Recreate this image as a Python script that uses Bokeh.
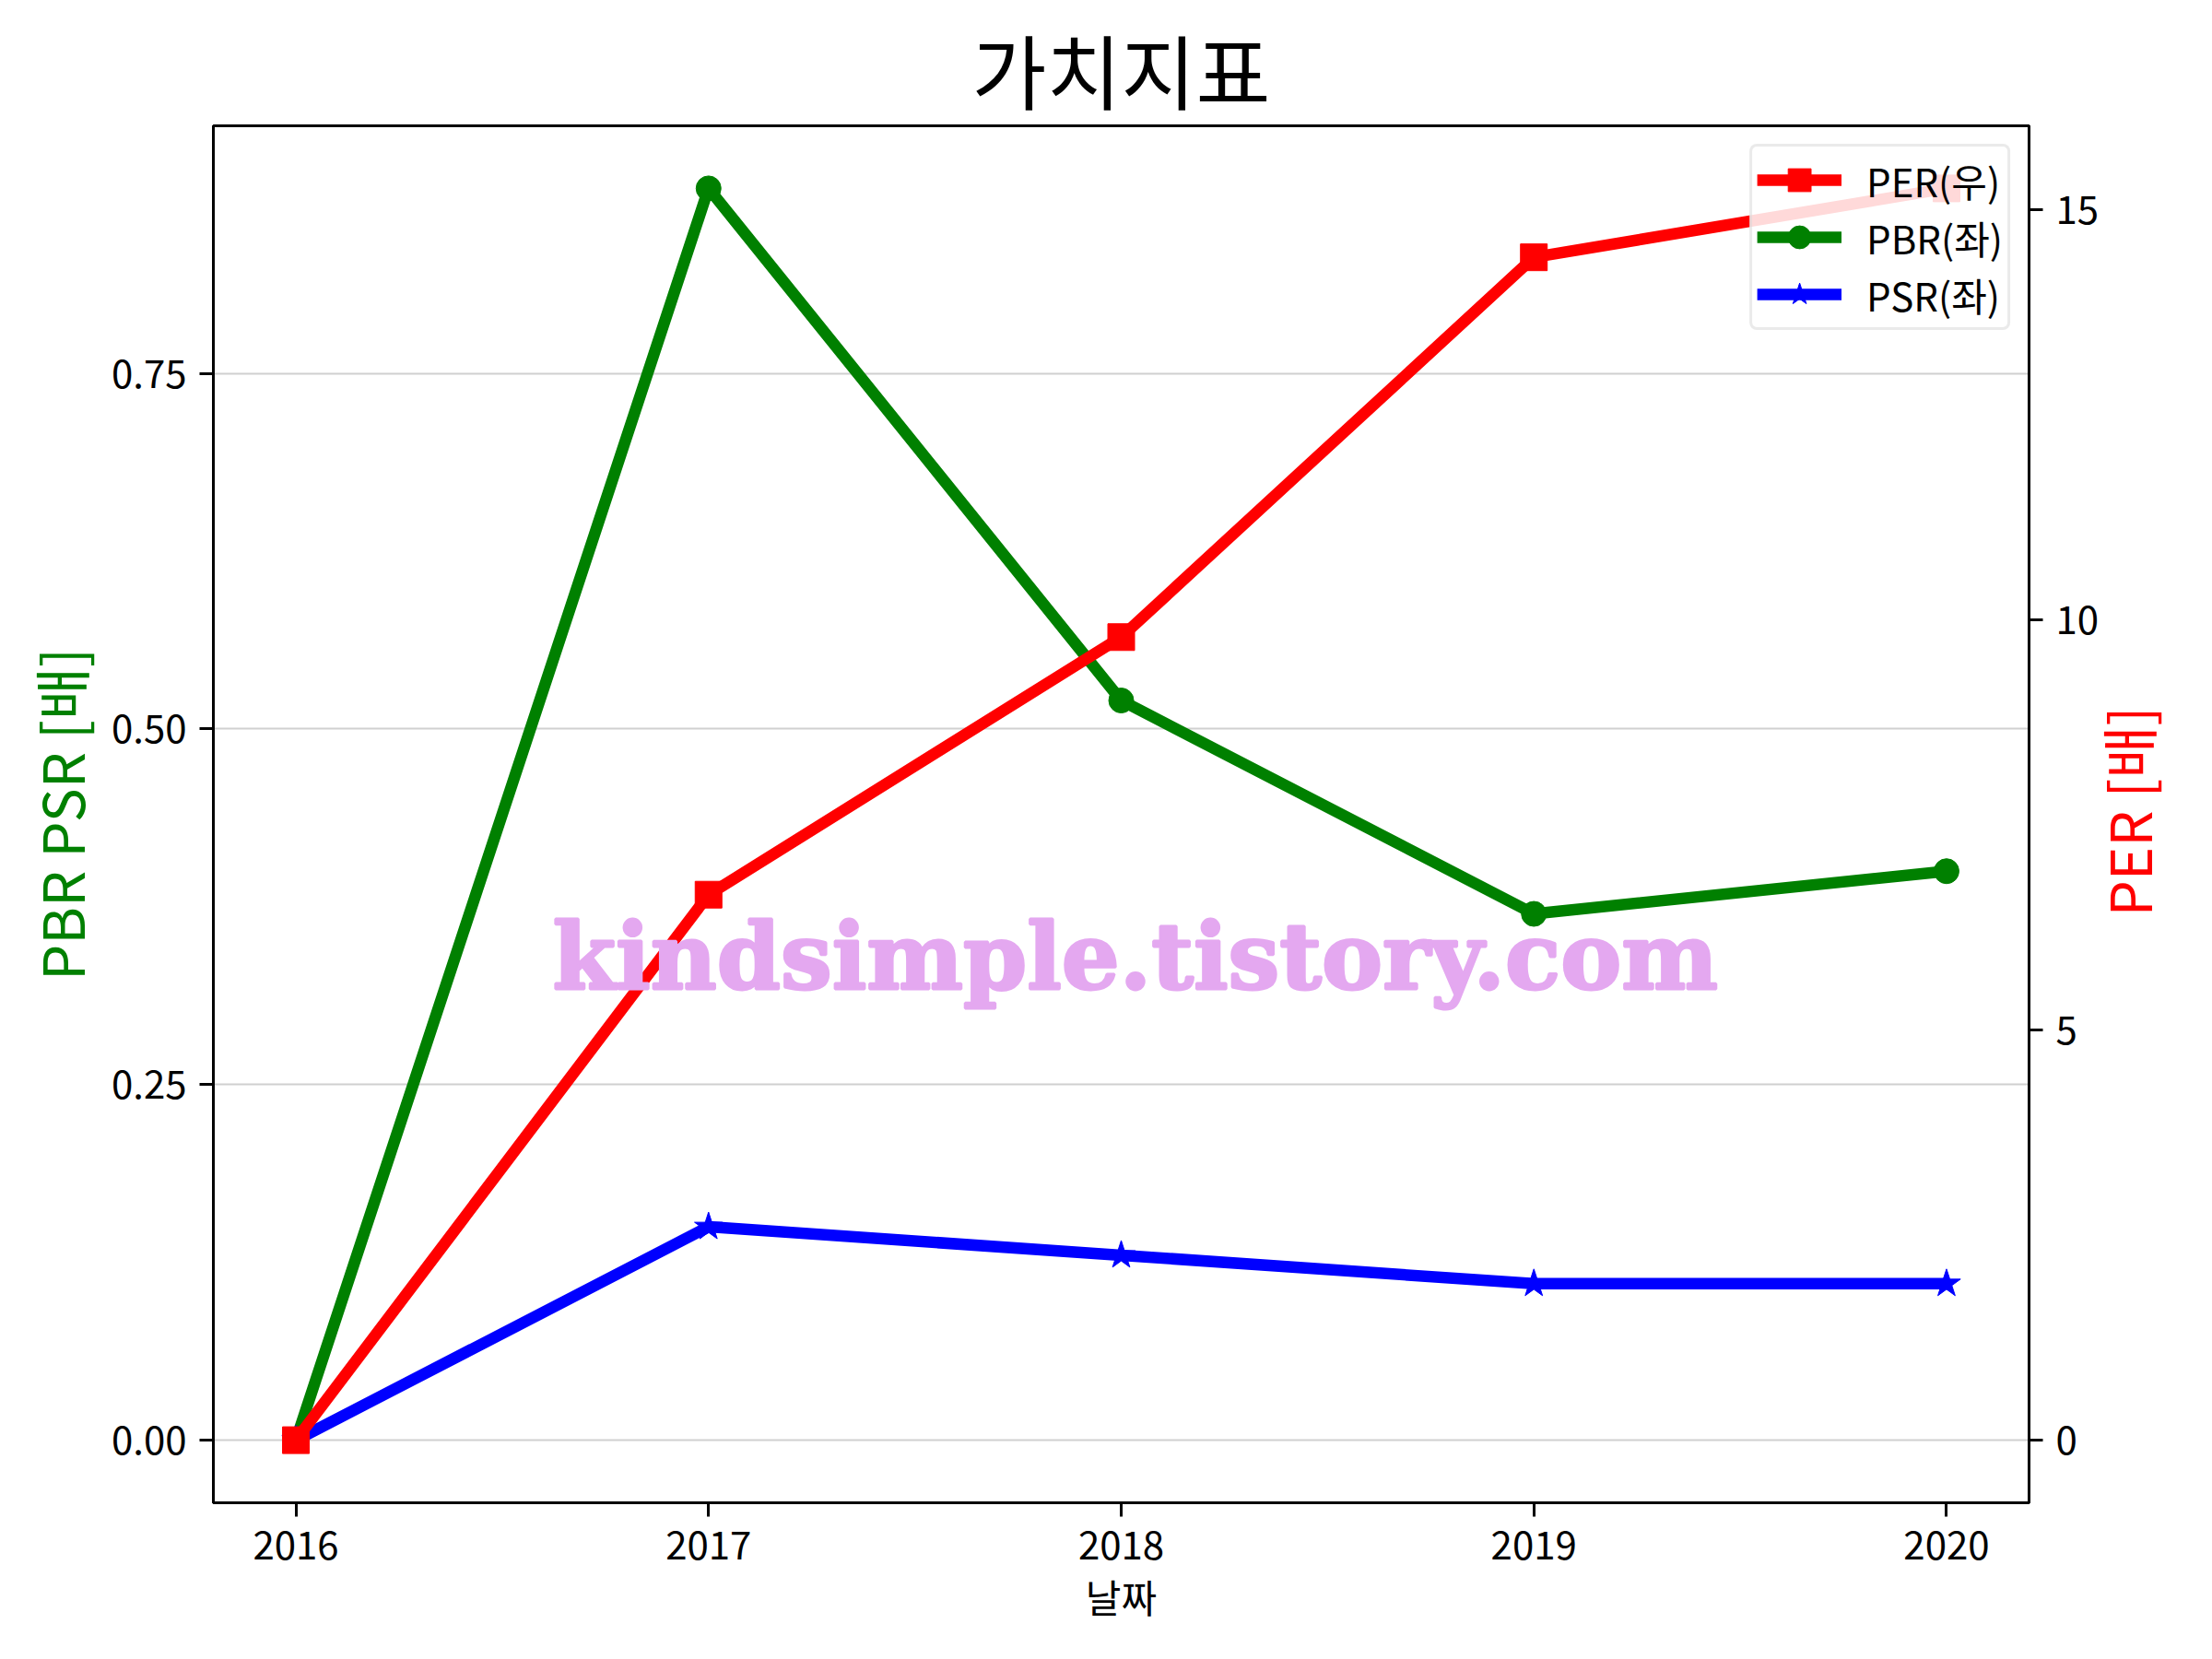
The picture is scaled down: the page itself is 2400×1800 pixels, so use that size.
import math
from bokeh.plotting import figure
from bokeh.models import (Range1d, LinearAxis, FixedTicker, Legend, LegendItem, Label)
from bokeh.embed import file_html
from bokeh.resources import INLINE

# ---- data ----
years = [2016, 2017, 2018, 2019, 2020]
per = [0.0, 6.65, 9.79, 14.42, 15.26]
pbr = [0.0, 0.88, 0.52, 0.37, 0.40]
psr = [0.0, 0.15, 0.13, 0.11, 0.11]
left_ticks = [0.0, 0.25, 0.50, 0.75]
right_ticks = [0, 5, 10, 15]
title_text = "가치지표"
xlabel = "날짜"
ylabel_left = "PBR PSR [배]"
ylabel_right = "PER [배]"
watermark = "kindsimple.tistory.com"

KFONT = "Noto Sans CJK KR"

W, H = 2400, 1784
BL, BR, BT, BB = 231, 184, 136, 154


def padded(lo, hi, frac=0.05):
    span = hi - lo
    return lo - span * frac, hi + span * frac


xr = padded(min(years), max(years))
yl = padded(min(min(pbr), min(psr)), max(max(pbr), max(psr)))
yr = padded(min(per), max(per))

p = figure(width=W, height=H, output_backend="svg", toolbar_location=None,
           x_range=Range1d(*xr), y_range=Range1d(*yl),
           min_border_left=BL, min_border_right=BR,
           min_border_top=BT, min_border_bottom=BB)
p.extra_y_ranges = {"per": Range1d(*yr)}

p.background_fill_color = "white"
p.border_fill_color = "white"
p.outline_line_color = "black"
p.outline_line_width = 3

# title
p.title.text = title_text
p.title.align = "center"
p.title.text_font = KFONT
p.title.text_font_size = "88px"
p.title.text_font_style = "normal"
p.title.text_color = "black"
p.title.standoff = 0

# grids
p.xgrid.visible = False
p.ygrid.grid_line_color = "#d0d0d0"
p.ygrid.grid_line_width = 2
p.ygrid.ticker = FixedTicker(ticks=left_ticks)


def style_axis(ax):
    ax.axis_line_color = "black"
    ax.axis_line_width = 3
    ax.major_tick_line_color = "black"
    ax.major_tick_line_width = 3
    ax.major_tick_out = 15
    ax.major_tick_in = 0
    ax.minor_tick_out = 0
    ax.minor_tick_in = 0
    ax.major_label_text_font = KFONT
    ax.major_label_text_font_size = "42px"
    ax.major_label_text_color = "black"
    ax.axis_label_text_font = KFONT
    ax.axis_label_text_font_style = "normal"


# x axis
xa = p.xaxis[0]
style_axis(xa)
xa.ticker = FixedTicker(ticks=years)
xa.major_label_overrides = {y: str(y) for y in years}
xa.axis_label = xlabel
xa.axis_label_text_font_size = "42px"
xa.axis_label_text_color = "black"
xa.major_label_standoff = 15
xa.axis_label_standoff = 6

# left y axis
ya = p.yaxis[0]
style_axis(ya)
ya.ticker = FixedTicker(ticks=left_ticks)
ya.major_label_overrides = {t: "%.2f" % t for t in left_ticks}
ya.axis_label = ylabel_left
ya.axis_label_text_font_size = "62px"
ya.axis_label_text_color = "green"
ya.major_label_standoff = 14
ya.axis_label_standoff = 8

# right y axis (PER)
ra = LinearAxis(y_range_name="per")
style_axis(ra)
ra.ticker = FixedTicker(ticks=right_ticks)
ra.major_label_overrides = {t: str(t) for t in right_ticks}
ra.major_label_standoff = 14
p.add_layout(ra, "right")

# right axis title, drawn as a single rotated tick label of a bare axis so that
# it reads bottom-to-top like the reference
frame_h = H - BT - BB
px_per_left = frame_h / (yl[1] - yl[0])
title_len_px = 222
label_tick = (yl[0] + yl[1]) / 2 - (title_len_px / 2) / px_per_left
la = LinearAxis()
la.ticker = FixedTicker(ticks=[label_tick])
la.major_label_overrides = {label_tick: ylabel_right}
la.axis_line_color = None
la.major_tick_line_color = None
la.major_tick_out = 0
la.major_tick_in = 0
la.minor_tick_out = 0
la.minor_tick_in = 0
la.major_label_text_font = KFONT
la.major_label_text_font_size = "62px"
la.major_label_text_color = "red"
la.major_label_orientation = math.pi / 2
la.major_label_standoff = 27
p.add_layout(la, "right")

LW = 12.5

# PBR (left)
pbr_line = p.line(years, pbr, line_color="green", line_width=LW)
pbr_pts = p.scatter(years, pbr, marker="circle", size=27, fill_color="green", line_color="green")
# PSR (left)
psr_line = p.line(years, psr, line_color="blue", line_width=LW)
psr_pts = p.scatter(years, psr, marker="star", size=32, fill_color="blue", line_color="blue")
# PER (right)
per_line = p.line(years, per, line_color="red", line_width=LW, y_range_name="per")
per_pts = p.scatter(years, per, marker="square", size=29, fill_color="red", line_color="red",
                    y_range_name="per")

legend = Legend(items=[
    LegendItem(label="PER(우)", renderers=[per_line, per_pts]),
    LegendItem(label="PBR(좌)", renderers=[pbr_line, pbr_pts]),
    LegendItem(label="PSR(좌)", renderers=[psr_line, psr_pts]),
], location="top_right")
legend.label_text_font = KFONT
legend.label_text_font_size = "42px"
legend.label_text_color = "black"
legend.glyph_width = 92
legend.glyph_height = 62
legend.label_height = 40
legend.label_standoff = 27
legend.spacing = 0
legend.padding = 5
legend.margin = 20
legend.border_line_color = "#d5d5d5"
legend.border_line_width = 3
legend.background_fill_color = "white"
legend.background_fill_alpha = 0.85
legend.level = "underlay"
if "border_radius" in Legend.properties():
    legend.border_radius = 8
p.add_layout(legend, "center")

wm_props = dict(text_align="center", text_baseline="middle",
                text_font="DejaVu Serif", text_font_style="bold",
                text_font_size="99px", text_color="#E4A8F0")
if "text_outline_color" in Label.properties():
    wm_props["text_outline_color"] = "#E4A8F0"
wm = Label(x=(min(years) + max(years)) / 2 + 0.034, y=0.340, text=watermark, **wm_props)
p.add_layout(wm)

open("out.html", "w").write(file_html(p, INLINE))
